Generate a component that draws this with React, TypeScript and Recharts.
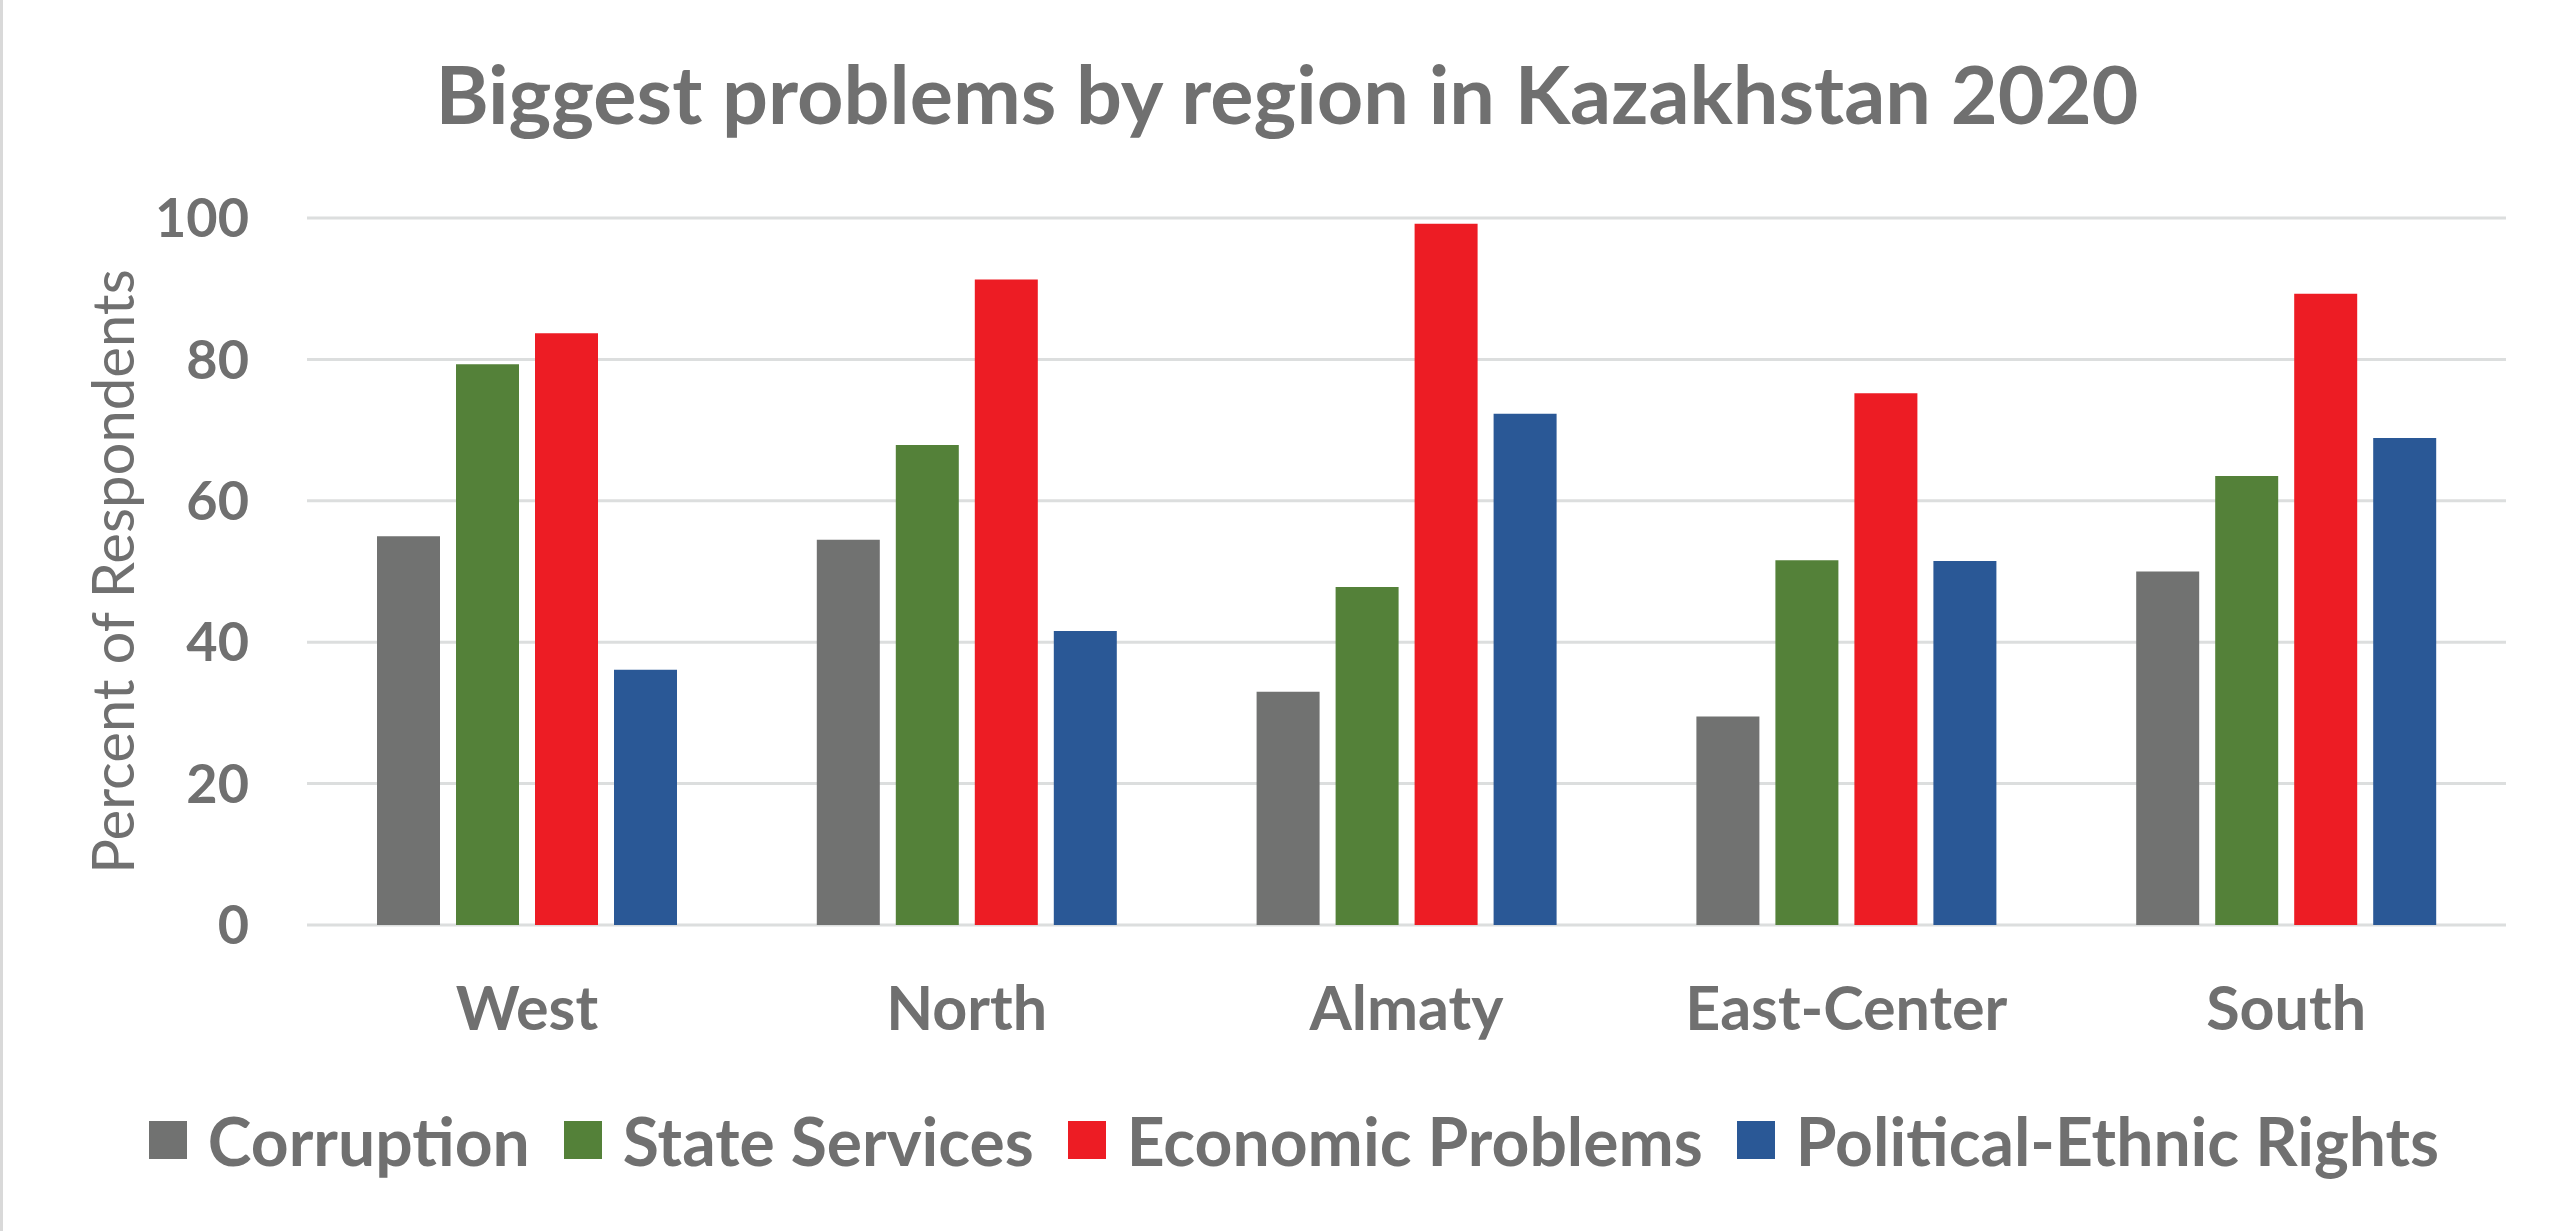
import React from 'react';
import { BarChart, Bar, XAxis, YAxis, CartesianGrid, Legend } from 'recharts';

// regions on the x axis
const regions = ['West', 'North', 'Almaty', 'East-Center', 'South'];

// percent of respondents per problem
const corruption = [55.0, 54.5, 33.0, 29.5, 50.0];
const stateServices = [79.3, 67.9, 47.8, 51.6, 63.5];
const economicProblems = [83.7, 91.3, 99.2, 75.2, 89.3];
const politicalEthnicRights = [36.1, 41.6, 72.3, 51.5, 68.9];

const yTicks = [0, 20, 40, 60, 80, 100];

const TEXT = '#707070';
const GRID = '#DCDEDE';
const FONT = 'Lato, "Open Sans", sans-serif';

const data = regions.map((region, i) => ({
  region,
  corruption: corruption[i],
  stateServices: stateServices[i],
  economicProblems: economicProblems[i],
  politicalEthnicRights: politicalEthnicRights[i],
}));

const series = [
  { key: 'corruption', name: 'Corruption', color: '#717271' },
  { key: 'stateServices', name: 'State Services', color: '#548139' },
  { key: 'economicProblems', name: 'Economic Problems', color: '#ED1C24' },
  { key: 'politicalEthnicRights', name: 'Political-Ethnic Rights', color: '#2A5896' },
];
const seriesOrder = series.map((s) => s.name);

const YLabel = (props: any) => {
  const vb = props.viewBox || {};
  const cx = 108;
  const cy = (vb.y || 0) + (vb.height || 0) / 2;
  return (
    <text
      x={cx}
      y={cy}
      transform={`rotate(-90, ${cx}, ${cy})`}
      textAnchor="middle"
      dominantBaseline="central"
      fill={TEXT}
      style={{ fontFamily: FONT, fontSize: 58, fontWeight: 400 }}
    >
      Percent of Respondents
    </text>
  );
};

const LegendContent = (props: any) => {
  // keep the series order, not the alphabetical one
  const items = [...(props.payload || [])].sort(
    (a: any, b: any) => seriesOrder.indexOf(a.value) - seriesOrder.indexOf(b.value)
  );
  return (
    <div style={{ height: 80, display: 'flex', alignItems: 'center', justifyContent: 'center', fontFamily: FONT }}>
      {items.map((it: any, i: number) => (
        <div key={it.value} style={{ display: 'flex', alignItems: 'center', marginLeft: i === 0 ? 0 : 34 }}>
          <span style={{ width: 38, height: 38, background: it.color, display: 'inline-block', marginRight: 21 }} />
          <span style={{ fontSize: 66, fontWeight: 700, color: TEXT, lineHeight: 'normal' }}>{it.value}</span>
        </div>
      ))}
    </div>
  );
};

export default function App() {
  return (
    <div
      style={{
        position: 'absolute',
        left: 0,
        top: 0,
        width: 2560,
        height: 1231,
        background: '#fff',
        borderLeft: '3px solid #D9D9D9',
        boxSizing: 'border-box',
      }}
    >
      <svg width={2560} height={160} style={{ position: 'absolute', left: 0, top: 0 }}>
        <text
          x={1284}
          y={124}
          textAnchor="middle"
          fill={TEXT}
          style={{ fontFamily: FONT, fontSize: 81, fontWeight: 700 }}
        >
          Biggest problems by region in Kazakhstan 2020
        </text>
      </svg>
      <BarChart
        width={2557}
        height={1231}
        data={data}
        margin={{ top: 218, right: 54, left: 0, bottom: 106 }}
        barSize={63}
        barGap={16}
      >
        <CartesianGrid horizontal vertical={false} stroke={GRID} strokeWidth={3} />
        <XAxis
          dataKey="region"
          height={120}
          axisLine={false}
          tickLine={false}
          tickSize={0}
          tickMargin={62}
          tick={{ fill: TEXT, fontSize: 61, fontWeight: 700, fontFamily: FONT }}
        />
        <YAxis
          width={304}
          domain={[0, 100]}
          ticks={yTicks}
          axisLine={false}
          tickLine={false}
          tickSize={0}
          tickMargin={58}
          tick={{ fill: TEXT, fontSize: 54, fontWeight: 700, fontFamily: FONT }}
          label={<YLabel />}
        />
        <Legend
          verticalAlign="bottom"
          content={<LegendContent />}
          wrapperStyle={{ top: 1100, left: 25, width: 2532, height: 80 }}
        />
        {series.map((s) => (
          <Bar key={s.key} dataKey={s.key} name={s.name} fill={s.color} isAnimationActive={false} />
        ))}
      </BarChart>
    </div>
  );
}
